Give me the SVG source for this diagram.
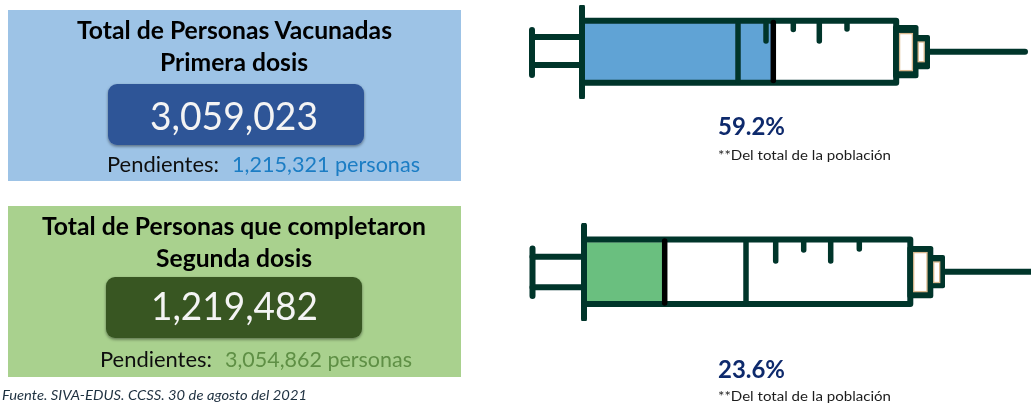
<svg xmlns="http://www.w3.org/2000/svg" width="1031" height="403" viewBox="0 0 1031 403">
<defs>
<filter id="sh" x="-10%" y="-20%" width="120%" height="140%"><feDropShadow dx="0" dy="1.5" stdDeviation="1.6" flood-color="#000" flood-opacity="0.45"/></filter>
<filter id="soft" x="-2%" y="-2%" width="104%" height="104%"><feGaussianBlur stdDeviation="0.35"/></filter>
</defs>
<style>
text{font-family:"Lato","Open Sans","Liberation Sans",sans-serif;}
.title{font-size:24px;font-weight:700;fill:#000;}
.num{font-size:38px;fill:#F4F4F4;}
.pen{font-size:21px;fill:#111;}
.pct{font-size:24px;font-weight:700;fill:#10296C;}
.note{font-size:12.5px;fill:#1c1c1c;}
.src{font-size:14px;font-style:italic;fill:#1F3040;}
.d{fill:none;stroke:#04342C;stroke-width:6;stroke-linecap:round;stroke-linejoin:round;}
.t{fill:none;stroke:#04342C;stroke-width:5.5;stroke-linecap:round;}
.k{fill:none;stroke:#000;stroke-width:5.500;stroke-linecap:round;}
.hub{fill:#04342C;}
.tan{fill:#fff;stroke:#D9B88E;stroke-width:1.300;}
</style>
<rect width="1031" height="403" fill="#fff"/>
<g id="panel-primera" filter="url(#soft)">
<rect x="8" y="10" width="453" height="171" fill="#9DC3E6"/>
<text class="title" x="77" y="39" textLength="315" lengthAdjust="spacingAndGlyphs">Total de Personas Vacunadas</text>
<text class="title" x="160" y="71" textLength="148" lengthAdjust="spacingAndGlyphs">Primera dosis</text>
<rect x="108" y="84" width="256" height="61" rx="9" fill="#2F5597" filter="url(#sh)"/>
<text class="num" x="150" y="130" textLength="168" lengthAdjust="spacingAndGlyphs">3,059,023</text>
<text class="pen" x="107" y="172" textLength="112" lengthAdjust="spacingAndGlyphs">Pendientes:</text>
<text class="pen" x="232" y="172" textLength="188" lengthAdjust="spacingAndGlyphs" style="fill:#1B7DC4">1,215,321 personas</text>
</g>
<g id="panel-segunda" filter="url(#soft)">
<rect x="8" y="206" width="453" height="171" fill="#A9D18E"/>
<text class="title" x="42" y="235" textLength="384" lengthAdjust="spacingAndGlyphs">Total de Personas que completaron</text>
<text class="title" x="156" y="267" textLength="156" lengthAdjust="spacingAndGlyphs">Segunda dosis</text>
<rect x="106" y="277" width="256" height="61" rx="9" fill="#385723" filter="url(#sh)"/>
<text class="num" x="151" y="320" textLength="167" lengthAdjust="spacingAndGlyphs">1,219,482</text>
<text class="pen" x="100" y="367" textLength="112" lengthAdjust="spacingAndGlyphs">Pendientes:</text>
<text class="pen" x="225" y="367" textLength="187" lengthAdjust="spacingAndGlyphs" style="fill:#5E8F45">3,054,862 personas</text>
</g>
<g id="fuente" filter="url(#soft)">
<text class="src" x="2" y="400" textLength="305" lengthAdjust="spacingAndGlyphs">Fuente. SIVA-EDUS. CCSS. 30 de agosto del 2021</text>
</g>
<g id="syringe-1" filter="url(#soft)">
<rect x="584" y="23" width="189" height="57" fill="#61A3D5"/>
<path class="d" d="M532 37H582M532 65H582"/>
<path class="d" d="M532 30V75M582 7V97"/>
<path class="d" d="M582 20.700H896.200V82.700H582"/>
<rect class="hub" x="893" y="25" width="25.500" height="53.300" rx="2.500"/>
<rect class="hub" x="912" y="35" width="18" height="34.300" rx="2"/>
<path class="d" d="M929 51.700H1025"/>
<rect class="tan" x="899.600" y="33.600" width="12.800" height="37"/>
<rect class="tan" x="918.200" y="42" width="6" height="19.700"/>
<path class="t" d="M738 22V81"/>
<path class="t" d="M766 22V41M793.300 22V29.500M819.300 22V41M847 22V29"/>
<path class="k" d="M773.300 22.500V80.500"/>
</g>
<g id="label-1" filter="url(#soft)">
<text class="pct" x="718" y="135" textLength="67" lengthAdjust="spacingAndGlyphs">59.2%</text>
<text class="note" x="718" y="160" textLength="173" lengthAdjust="spacingAndGlyphs">**Del total de la población</text>
</g>
<g id="syringe-2" filter="url(#soft)">
<rect x="586.700" y="242.300" width="78" height="59" fill="#6ABF7F"/>
<path class="d" d="M532.500 256.700H584M532.500 287.300H584"/>
<path class="d" d="M532.500 248.500V296M584 225.500V319"/>
<path class="d" d="M584 239.500H910.300V304H584"/>
<rect class="hub" x="907.300" y="246" width="26" height="52.300" rx="2.500"/>
<rect class="hub" x="927" y="255" width="18" height="33.300" rx="2"/>
<path class="d" d="M944 271.700H1031"/>
<rect class="tan" x="913.700" y="252.600" width="13.300" height="39"/>
<rect class="tan" x="933.700" y="262" width="6" height="20.500"/>
<path class="t" d="M746 242V303"/>
<path class="t" d="M775.700 242V261M803.700 242V250M830.700 242V261M859.300 242V249"/>
<path class="k" d="M664.700 241V303"/>
</g>
<g id="label-2" filter="url(#soft)">
<text class="pct" x="718" y="378" textLength="67" lengthAdjust="spacingAndGlyphs">23.6%</text>
<text class="note" x="718" y="401" textLength="173" lengthAdjust="spacingAndGlyphs">**Del total de la población</text>
</g>
<g id="connectors"></g>
</svg>
